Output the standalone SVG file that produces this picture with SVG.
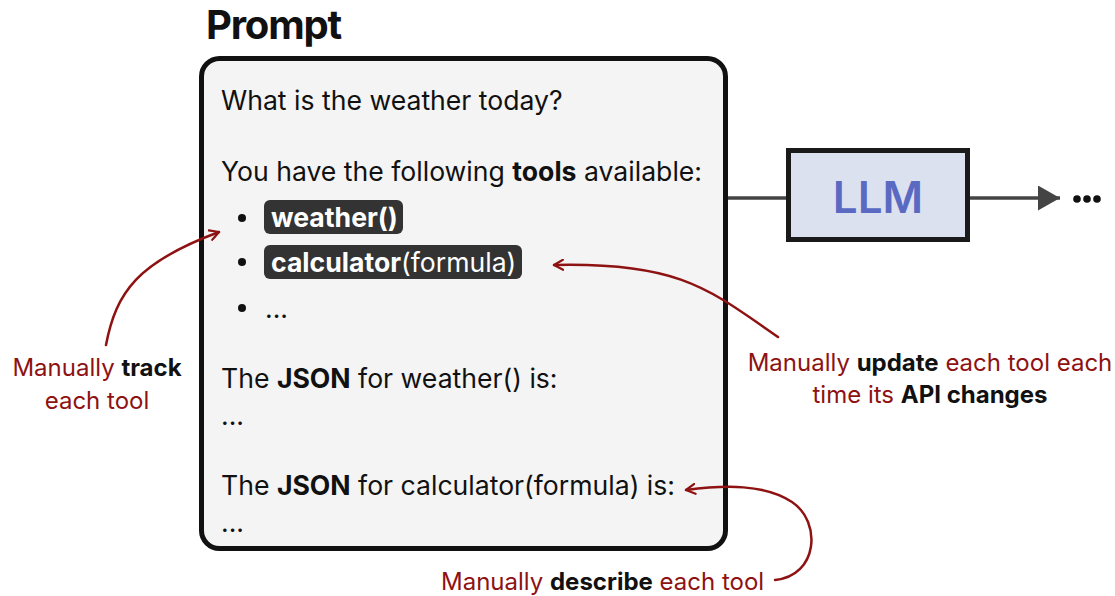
<svg xmlns="http://www.w3.org/2000/svg" width="1115" height="596" viewBox="0 0 1115 596">
  <style>
    text { font-family: Inter, "Noto Sans", "Liberation Sans", sans-serif; }
    .body { font-size: 26.6px; fill: #111; }
    .b { font-weight: 700; }
    .note { font-size: 24px; fill: #8e1212; }
    .note .k { fill: #111; font-weight: 700; }
    .pill { fill: #333; }
    .pilltxt { font-size: 26.6px; fill: #fff; }
    .dark-arrow { fill: none; stroke: #8e1212; stroke-width: 2.5; stroke-linecap: round; }
    .flow { stroke: #444; stroke-width: 3.5; fill: none; }
  </style>
  <defs>
    <marker id="open-red" viewBox="0 0 12 12" refX="10" refY="6" markerWidth="12" markerHeight="12" markerUnits="userSpaceOnUse" orient="auto">
      <path d="M1,1 L10,6 L1,11" fill="none" stroke="#8e1212" stroke-width="2.2" stroke-linecap="round" stroke-linejoin="round"/>
    </marker>
    <marker id="solid-grey" viewBox="0 0 22 25" refX="22" refY="12.5" markerWidth="22" markerHeight="25" markerUnits="userSpaceOnUse" orient="auto">
      <path d="M0,0 L22,12.5 L0,25 Z" fill="#444"/>
    </marker>
  </defs>

  <!-- prompt card -->
  <g id="prompt">
    <text x="206" y="39" font-size="40" font-weight="700" fill="#111" letter-spacing="-1.2">Prompt</text>
    <rect x="201.5" y="58.5" width="524" height="490" rx="18" fill="#f4f4f4" stroke="#111" stroke-width="5"/>
    <text class="body" x="221" y="110">What is the weather today?</text>
    <text class="body" x="221" y="181">You have the following <tspan class="b">tools</tspan> available:</text>

    <circle cx="242" cy="218" r="4" fill="#111"/>
    <rect class="pill" x="264" y="200" width="139" height="34" rx="6"/>
    <text class="pilltxt" x="271" y="227"><tspan class="b">weather()</tspan></text>

    <circle cx="242" cy="262" r="4" fill="#111"/>
    <rect class="pill" x="264" y="245" width="258" height="34" rx="6"/>
    <text class="pilltxt" x="271" y="272"><tspan class="b">calculator</tspan>(formula)</text>

    <circle cx="242" cy="308" r="4" fill="#111"/>
    <text class="body" x="265" y="318">...</text>

    <text class="body" x="221" y="388">The <tspan class="b">JSON</tspan> for weather() is:</text>
    <text class="body" x="221" y="425">...</text>
    <text class="body" x="221" y="495">The <tspan class="b">JSON</tspan> for calculator(formula) is:</text>
    <text class="body" x="221" y="532">...</text>
  </g>

  <!-- model node -->
  <g id="llm">
    <rect x="788.5" y="150.5" width="179" height="89" fill="#dce1ef" stroke="#1a1a1a" stroke-width="5"/>
    <text x="878" y="213" text-anchor="middle" font-size="44" font-weight="600" fill="#5a6ac2">LLM</text>
  </g>

  <g id="ellipsis">
    <circle cx="1077" cy="199" r="3.8" fill="#111"/>
    <circle cx="1087" cy="199" r="3.8" fill="#111"/>
    <circle cx="1097" cy="199" r="3.8" fill="#111"/>
  </g>

  <!-- connectors -->
  <g id="connectors">
    <line class="flow" x1="728" y1="198" x2="786" y2="198"/>
    <line class="flow" x1="970" y1="198" x2="1060" y2="198" marker-end="url(#solid-grey)"/>
    <path class="dark-arrow" d="M106,345 C116,292 138,262 219,232" marker-end="url(#open-red)"/>
    <path class="dark-arrow" d="M778,337 C710,290 680,262 554,265" marker-end="url(#open-red)"/>
    <path class="dark-arrow" d="M775,580 C818,576 822,522 792,502 C765,484 725,485 686,490" marker-end="url(#open-red)"/>
  </g>

  <!-- annotations -->
  <g id="note-track">
    <text class="note" x="97" y="376" text-anchor="middle">Manually <tspan class="k">track</tspan></text>
    <text class="note" x="97" y="409" text-anchor="middle">each tool</text>
  </g>
  <g id="note-update">
    <text class="note" x="930" y="371" text-anchor="middle">Manually <tspan class="k">update</tspan> each tool each</text>
    <text class="note" x="930" y="403" text-anchor="middle">time its <tspan class="k">API changes</tspan></text>
  </g>
  <g id="note-describe">
    <text class="note" x="441" y="590">Manually <tspan class="k">describe</tspan> each tool</text>
  </g>
</svg>
